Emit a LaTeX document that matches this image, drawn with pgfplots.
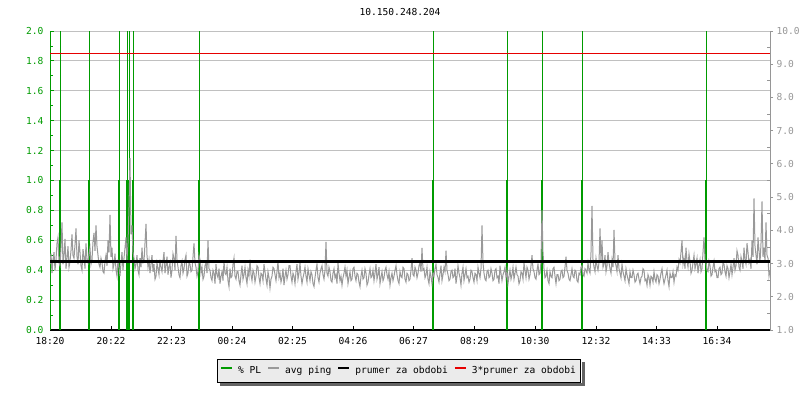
\documentclass[border=0pt]{standalone}
\usepackage{fontspec}
\setmainfont{DejaVu Sans Mono}
\usepackage{pgfplots}
\pgfplotsset{compat=1.18}
\definecolor{plgreen}{RGB}{0,155,0}
\definecolor{pinggray}{RGB}{153,153,153}
\definecolor{gridgray}{RGB}{192,192,192}
\definecolor{rightgray}{RGB}{150,150,150}
\definecolor{legendbg}{RGB}{235,235,235}
\definecolor{shadowgray}{RGB}{100,100,100}
\definecolor{avgred}{RGB}{230,0,0}
\newcommand{\chartfont}{\fontsize{9.6bp}{11bp}\selectfont}
\begin{document}
\begin{tikzpicture}
\path[use as bounding box] (0,0) rectangle (800bp,400bp);
\node[font=\chartfont] at (400bp,388bp) {10.150.248.204};
\begin{axis}[
  at={(50bp,70bp)}, anchor=south west, scale only axis,
  width=720bp, height=299bp,
  xmin=0, xmax=1440, ymin=0, ymax=2,
  axis x line*=bottom, axis y line*=left,
  x axis line style={black, line width=1.5bp},
  y axis line style={plgreen, line width=1bp},
  xtick={0,122,243,364,485,606,727,849,970,1092,1213,1334},
  xticklabels={18:20,20:22,22:23,00:24,02:25,04:26,06:27,08:29,10:30,12:32,14:33,16:34},
  ytick={0,0.2,0.4,0.6,0.8,1.0,1.2,1.4,1.6,1.8,2.0},
  minor ytick={0.1,0.3,0.5,0.7,0.9,1.1,1.3,1.5,1.7,1.9},
  tick align=inside,
  major tick length=4bp, minor tick length=3bp,
  x tick style={black, line width=0.8bp},
  y tick style={plgreen, line width=0.8bp},
  ymajorgrids, grid style={gridgray, line width=0.8bp},
  /pgf/number format/assume math mode=true,
  tick label style={font=\chartfont},
  xticklabel style={black, yshift=-4bp},
  yticklabel style={plgreen, xshift=-3bp, /pgf/number format/.cd, fixed, fixed zerofill, precision=1},
  legend style={name=leg, at={(0.4847,-0.137)}, anchor=center, legend columns=4,
    draw=black, line width=1bp, fill=legendbg,
    font=\chartfont, inner xsep=3bp, inner ysep=5bp,
    /tikz/every odd column/.append style={column sep=3bp},
    /tikz/every even column/.append style={column sep=4bp}},
  legend cell align=left,
  legend image code/.code={\draw[#1, line width=2bp] (0bp,3bp) -- (11bp,3bp);},
]
\addlegendimage{plgreen}
\addlegendentry{\% PL}
\addlegendimage{pinggray}
\addlegendentry{avg ping}
\addlegendimage{black}
\addlegendentry{prumer za obdobi}
\addlegendimage{avgred}
\addlegendentry{3*prumer za obdobi}
% packet loss events
\addplot[forget plot, ycomb, plgreen, line width=1bp, mark=none] coordinates {
(20,2)(78,2)(138,2)(154,2)(158,2)(166,2)(298,2)(766,2)(914,2)(984,2)(1064,2)(1312,2)};
\addplot[forget plot, ycomb, plgreen, line width=2bp, mark=none] coordinates {
(20,1)(78,1)(138,1)(154,1)(158,1)(166,1)(298,1)(766,1)(914,1)(984,1)(1064,1)(1312,1)};
% avg ping
\addplot[forget plot, pinggray, line width=1bp, mark=none] coordinates {
(0,0.44)(2,0.51)(4,0.38)(6,0.47)(8,0.52)(10,0.40)(12,0.47)(14,0.58)(16,0.62)(18,0.45)(20,0.43)(22,0.55)
(24,0.72)(26,0.44)(28,0.50)(30,0.61)(32,0.41)(34,0.48)(36,0.56)(38,0.42)(40,0.46)(42,0.53)(44,0.64)(46,0.50)
(48,0.48)(50,0.57)(52,0.68)(54,0.49)(56,0.44)(58,0.60)(60,0.52)(62,0.43)(64,0.40)(66,0.54)(68,0.49)(70,0.41)
(72,0.58)(74,0.47)(76,0.45)(78,0.51)(80,0.55)(82,0.44)(84,0.47)(86,0.59)(88,0.65)(90,0.53)(92,0.70)(94,0.56)
(96,0.50)(98,0.44)
(100,0.42)(102,0.48)(104,0.45)(106,0.39)(108,0.38)(110,0.46)(112,0.50)(114,0.43)(116,0.60)(118,0.52)(120,0.77)(122,0.49)
(124,0.55)(126,0.41)(128,0.44)(130,0.51)(132,0.40)(134,0.36)(136,0.47)(138,0.42)(140,0.36)(142,0.45)(144,0.52)(146,0.40)
(148,0.48)(150,0.55)(152,0.62)(154,0.47)(156,0.58)(158,0.82)(160,1.15)(162,0.64)(164,0.70)(166,0.52)(168,0.48)(170,0.41)
(172,0.44)(174,0.50)(176,0.40)(178,0.37)(180,0.48)(182,0.42)(184,0.55)(186,0.45)(188,0.46)(190,0.58)(192,0.71)(194,0.50)
(196,0.42)(198,0.47)(200,0.38)(202,0.44)(204,0.50)(206,0.39)(208,0.44)(210,0.34)(212,0.36)(214,0.45)(216,0.41)(218,0.37)
(220,0.47)(222,0.42)(224,0.39)(226,0.46)(228,0.52)(230,0.38)(232,0.43)(234,0.49)(236,0.37)(238,0.42)(240,0.45)(242,0.35)
(244,0.40)(246,0.51)(248,0.48)(250,0.40)(252,0.63)(254,0.47)(256,0.42)(258,0.37)(260,0.35)(262,0.43)(264,0.46)(266,0.38)
(268,0.41)(270,0.47)(272,0.50)(274,0.36)(276,0.38)(278,0.45)(280,0.44)(282,0.39)(284,0.40)(286,0.49)(288,0.58)(290,0.45)
(292,0.42)(294,0.36)(296,0.39)(298,0.50)(300,0.47)(302,0.38)
(304,0.42)(306,0.34)(308,0.36)(310,0.43)(312,0.45)(314,0.38)(316,0.60)(318,0.41)(320,0.40)(322,0.35)(324,0.33)(326,0.40)
(328,0.38)(330,0.31)(332,0.44)(334,0.37)(336,0.35)(338,0.41)(340,0.31)(342,0.36)(344,0.39)(346,0.33)(348,0.46)(350,0.38)
(352,0.37)(354,0.42)(356,0.33)(358,0.29)(360,0.41)(362,0.35)(364,0.36)(366,0.44)(368,0.48)(370,0.36)(372,0.34)(374,0.39)
(376,0.39)(378,0.33)(380,0.30)(382,0.37)(384,0.43)(386,0.34)(388,0.37)(390,0.42)(392,0.35)(394,0.31)(396,0.40)(398,0.36)
(400,0.47)(402,0.37)(404,0.33)(406,0.40)(408,0.38)(410,0.32)(412,0.36)(414,0.43)(416,0.42)(418,0.35)(420,0.31)(422,0.38)
(424,0.37)(426,0.33)(428,0.44)(430,0.39)(432,0.34)(434,0.30)(436,0.39)(438,0.35)(440,0.28)(442,0.34)(444,0.36)(446,0.42)
(448,0.41)(450,0.37)(452,0.33)(454,0.39)(456,0.46)(458,0.35)(460,0.38)(462,0.32)(464,0.35)(466,0.41)(468,0.30)(470,0.36)
(472,0.40)(474,0.34)(476,0.37)(478,0.43)(480,0.43)(482,0.36)(484,0.32)(486,0.38)(488,0.36)(490,0.31)(492,0.39)(494,0.44)
(496,0.34)(498,0.38)(500,0.45)(502,0.36)(504,0.31)(506,0.35)(508,0.38)(510,0.42)(512,0.36)(514,0.32)(516,0.41)(518,0.37)
(520,0.33)(522,0.39)(524,0.37)(526,0.31)(528,0.29)(530,0.35)(532,0.40)(534,0.44)(536,0.35)(538,0.32)(540,0.38)(542,0.41)
(544,0.43)(546,0.37)(548,0.34)(550,0.40)(552,0.59)(554,0.38)(556,0.36)(558,0.42)(560,0.39)(562,0.33)(564,0.32)(566,0.38)
(568,0.41)(570,0.35)(572,0.37)(574,0.31)(576,0.45)(578,0.38)(580,0.33)(582,0.36)(584,0.30)(586,0.35)(588,0.38)(590,0.42)
(592,0.36)(594,0.40)(596,0.31)(598,0.35)(600,0.39)(602,0.33)(604,0.34)(606,0.41)(608,0.42)(610,0.36)(612,0.33)(614,0.38)
(616,0.37)(618,0.32)(620,0.29)(622,0.36)(624,0.40)(626,0.34)(628,0.35)(630,0.41)(632,0.38)(634,0.30)(636,0.32)(638,0.37)
(640,0.41)(642,0.35)(644,0.36)(646,0.40)(648,0.33)(650,0.38)(652,0.44)(654,0.34)(656,0.37)(658,0.42)(660,0.31)(662,0.35)
(664,0.39)(666,0.33)(668,0.35)(670,0.40)(672,0.42)(674,0.37)(676,0.34)(678,0.39)(680,0.30)(682,0.35)(684,0.38)(686,0.33)
(688,0.36)(690,0.40)(692,0.43)(694,0.37)(696,0.33)(698,0.31)(700,0.39)(702,0.36)(704,0.35)(706,0.42)(708,0.41)(710,0.34)
(712,0.32)(714,0.38)(716,0.37)(718,0.33)(720,0.34)(722,0.40)(724,0.48)(726,0.37)(728,0.36)(730,0.42)(732,0.40)(734,0.35)
(736,0.38)(738,0.43)(740,0.45)(742,0.39)(744,0.55)(746,0.40)(748,0.41)(750,0.35)(752,0.37)(754,0.42)(756,0.34)(758,0.31)
(760,0.39)(762,0.36)(764,0.31)(766,0.38)(768,0.36)(770,0.41)(772,0.44)(774,0.37)(776,0.35)(778,0.32)(780,0.38)(782,0.43)
(784,0.33)(786,0.37)(788,0.42)(790,0.39)(792,0.53)(794,0.40)(796,0.37)(798,0.33)(800,0.34)(802,0.39)(804,0.40)(806,0.35)
(808,0.36)(810,0.41)(812,0.31)(814,0.36)(816,0.43)(818,0.38)(820,0.35)(822,0.30)(824,0.38)(826,0.42)(828,0.33)(830,0.37)
(832,0.41)(834,0.35)(836,0.36)(838,0.32)(840,0.34)(842,0.40)(844,0.39)(846,0.35)(848,0.32)(850,0.38)(852,0.37)(854,0.33)
(856,0.42)(858,0.38)(860,0.35)(862,0.41)(864,0.70)(866,0.45)(868,0.38)(870,0.34)(872,0.33)(874,0.39)(876,0.40)(878,0.35)
(880,0.36)(882,0.41)
(884,0.38)(886,0.33)(888,0.34)(890,0.40)(892,0.41)(894,0.35)(896,0.36)(898,0.31)(900,0.43)(902,0.38)(904,0.33)(906,0.37)
(908,0.39)(910,0.42)(912,0.35)(914,0.40)(916,0.31)(918,0.36)(920,0.40)(922,0.34)(924,0.37)(926,0.42)(928,0.34)(930,0.38)
(932,0.42)(934,0.37)(936,0.36)(938,0.31)(940,0.33)(942,0.39)(944,0.38)(946,0.34)(948,0.45)(950,0.40)(952,0.35)(954,0.42)
(956,0.40)(958,0.34)(960,0.37)(962,0.43)(964,0.50)(966,0.41)(968,0.39)(970,0.35)(972,0.34)(974,0.40)(976,0.44)(978,0.37)
(980,0.38)(982,0.46)(984,0.80)(986,0.52)(988,0.41)(990,0.35)(992,0.36)(994,0.40)(996,0.33)(998,0.31)(1000,0.39)(1002,0.36)
(1004,0.35)(1006,0.41)(1008,0.42)(1010,0.36)(1012,0.31)(1014,0.37)(1016,0.37)(1018,0.33)(1020,0.34)(1022,0.39)(1024,0.40)(1026,0.35)
(1028,0.36)(1030,0.42)(1032,0.49)(1034,0.40)(1036,0.38)(1038,0.34)(1040,0.33)(1042,0.37)(1044,0.41)(1046,0.36)(1048,0.35)(1050,0.40)
(1052,0.39)(1054,0.33)(1056,0.32)(1058,0.38)(1060,0.37)(1062,0.42)(1064,0.43)(1066,0.37)(1068,0.36)(1070,0.41)(1072,0.40)(1074,0.38)
(1076,0.45)(1078,0.40)(1080,0.38)(1082,0.52)(1084,0.83)(1086,0.47)(1088,0.42)(1090,0.39)(1092,0.48)(1094,0.43)(1096,0.40)(1098,0.45)
(1100,0.68)(1102,0.46)(1104,0.60)(1106,0.42)(1108,0.44)(1110,0.50)(1112,0.39)(1114,0.43)(1116,0.52)(1118,0.45)(1120,0.41)(1122,0.38)
(1124,0.47)(1126,0.42)(1128,0.67)(1130,0.46)(1132,0.43)(1134,0.39)(1136,0.50)(1138,0.41)(1140,0.38)(1142,0.35)(1144,0.44)(1146,0.39)
(1148,0.36)(1150,0.33)(1152,0.41)(1154,0.37)(1156,0.34)(1158,0.31)(1160,0.39)(1162,0.35)(1164,0.35)(1166,0.40)(1168,0.37)(1170,0.32)
(1172,0.33)(1174,0.37)(1176,0.38)(1178,0.34)(1180,0.31)(1182,0.35)(1184,0.36)(1186,0.41)(1188,0.40)(1190,0.33)(1192,0.34)(1194,0.30)
(1196,0.37)(1198,0.35)(1200,0.30)(1202,0.36)(1204,0.35)(1206,0.32)(1208,0.39)(1210,0.34)(1212,0.32)(1214,0.37)(1216,0.36)(1218,0.31)
(1220,0.34)(1222,0.38)(1224,0.41)(1226,0.35)(1228,0.31)(1230,0.34)(1232,0.37)(1234,0.40)(1236,0.33)(1238,0.29)(1240,0.38)(1242,0.35)
(1244,0.35)(1246,0.39)(1248,0.32)(1250,0.37)(1252,0.36)(1254,0.42)(1256,0.40)(1258,0.47)(1260,0.45)(1262,0.52)(1264,0.60)(1266,0.44)
(1268,0.48)(1270,0.41)(1272,0.55)(1274,0.46)(1276,0.42)(1278,0.51)(1280,0.46)(1282,0.38)(1284,0.40)(1286,0.45)(1288,0.50)(1290,0.41)
(1292,0.44)(1294,0.48)(1296,0.38)(1298,0.43)(1300,0.47)(1302,0.39)(1304,0.41)(1306,0.52)(1308,0.62)(1310,0.47)(1312,0.45)(1314,0.40)
(1316,0.39)(1318,0.46)(1320,0.43)(1322,0.36)(1324,0.37)(1326,0.42)(1328,0.46)(1330,0.39)(1332,0.40)(1334,0.35)(1336,0.35)(1338,0.41)
(1340,0.42)(1342,0.37)(1344,0.38)(1346,0.45)(1348,0.44)(1350,0.39)(1352,0.36)(1354,0.43)(1356,0.41)(1358,0.35)(1360,0.39)(1362,0.44)
(1364,0.37)(1366,0.42)(1368,0.48)(1370,0.40)(1372,0.43)(1374,0.53)(1376,0.50)(1378,0.42)(1380,0.40)(1382,0.49)(1384,0.46)(1386,0.41)
(1388,0.55)(1390,0.47)(1392,0.44)(1394,0.58)(1396,0.52)(1398,0.45)(1400,0.47)(1402,0.41)(1404,0.60)(1406,0.49)(1408,0.88)(1410,0.56)
(1412,0.50)(1414,0.44)(1416,0.62)(1418,0.53)(1420,0.45)(1422,0.58)(1424,0.86)(1426,0.49)(1428,0.55)(1430,0.46)(1432,0.72)(1434,0.50)
(1436,0.48)(1438,0.36)(1440,0.40)
};
% period average and 3x average
\addplot[forget plot, black, line width=3bp, mark=none] coordinates {(0,0.4615)(1440,0.4615)};
\addplot[forget plot, avgred, line width=1bp, mark=none] coordinates {(0,1.851)(1440,1.851)};
\end{axis}
\begin{axis}[
  at={(50bp,70bp)}, anchor=south west, scale only axis,
  width=720bp, height=299bp,
  xmin=0, xmax=1440, ymin=1, ymax=10,
  axis x line=none, xtick=\empty,
  axis y line*=right,
  y axis line style={rightgray, line width=1bp},
  ytick={1,2,3,4,5,6,7,8,9,10},
  tick align=outside, major tick length=3bp,
  extra y ticks={1.5,2.5,3.5,4.5,5.5,6.5,7.5,8.5,9.5},
  extra y tick labels={},
  extra y tick style={tick align=inside, major tick length=3bp},
  y tick style={rightgray, line width=0.8bp},
  /pgf/number format/assume math mode=true,
  tick label style={font=\chartfont},
  yticklabel style={rightgray, /pgf/number format/.cd, fixed, fixed zerofill, precision=1},
]
\addplot[draw=none, forget plot] coordinates {(0,1)(1440,10)};
\end{axis}
% legend drop shadow (visible L-shaped part)
\fill[shadowgray] ([xshift=3bp,yshift=-0.5bp]leg.south west) rectangle ([xshift=3.5bp,yshift=-3.5bp]leg.south east);
\fill[shadowgray] ([xshift=0.5bp,yshift=-3bp]leg.north east) rectangle ([xshift=3.5bp,yshift=-3.5bp]leg.south east);
\end{tikzpicture}
\end{document}
